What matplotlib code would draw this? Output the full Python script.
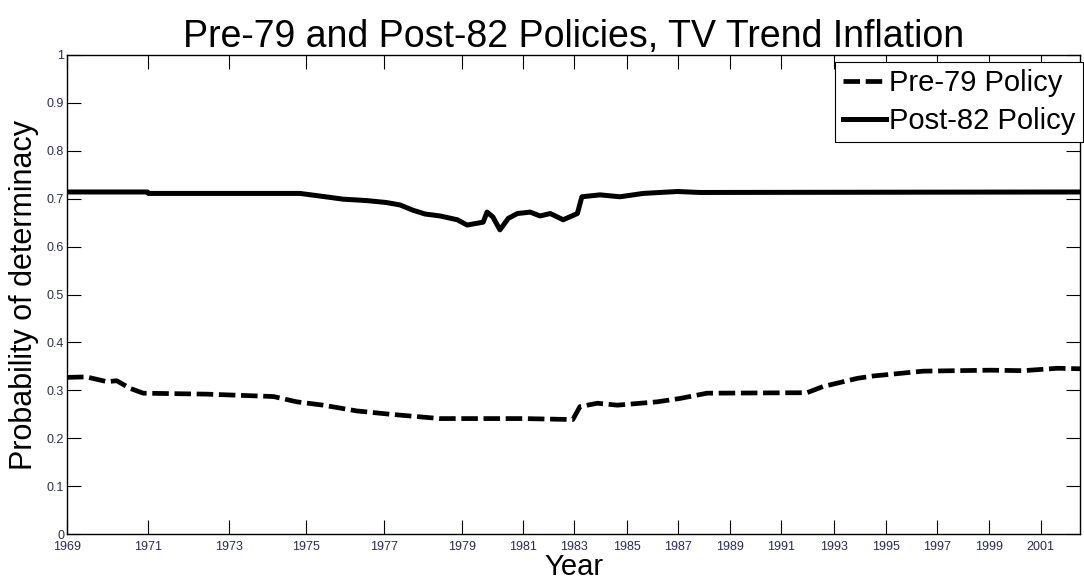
import matplotlib
matplotlib.use('Agg')
import matplotlib.pyplot as plt
import numpy as np

plt.rcParams['font.family'] = ['Liberation Sans', 'DejaVu Sans']

# x axis is an observation index; year labels sit at uneven positions
tick_pos = [0, 12.6, 25.1, 37.1, 49.1, 61.2, 70.7, 78.6, 86.8, 94.7,
            102.8, 110.7, 118.9, 127.0, 134.9, 142.9, 150.9]
tick_years = ['1969', '1971', '1973', '1975', '1977', '1979', '1981', '1983',
              '1985', '1987', '1989', '1991', '1993', '1995', '1997', '1999', '2001']
x_max = 157

# Post-82 policy
post_x = [0, 12.5, 12.6, 34.6, 36.1, 39.5, 42.8, 46.5, 49.5, 51.6, 53.6, 55.5,
          57.8, 60.5, 62.0, 64.5, 65.1, 66.0, 67.1, 68.4, 69.8, 71.8, 73.3,
          74.9, 76.9, 79.1, 79.8, 82.6, 85.7, 89.3, 94.6, 98.1, 157]
post_y = [0.714, 0.714, 0.711, 0.711, 0.711, 0.705, 0.699, 0.696, 0.692, 0.687,
          0.676, 0.668, 0.664, 0.656, 0.645, 0.651, 0.672, 0.662, 0.635, 0.659,
          0.669, 0.672, 0.664, 0.669, 0.656, 0.669, 0.704, 0.708, 0.704, 0.711,
          0.715, 0.713, 0.714]

# Pre-79 policy
pre_x = [0, 3.0, 6.2, 7.7, 9.8, 11.8, 21.7, 32.0, 35.6, 39.7, 44.9, 50.1,
         57.8, 70.7, 78.4, 79.5, 82.2, 85.3, 91.5, 95.0, 99.2, 114.7, 117.2,
         122.5, 125.0, 132.7, 143.1, 148.2, 153.5, 157]
pre_y = [0.327, 0.328, 0.318, 0.320, 0.304, 0.294, 0.292, 0.287, 0.276, 0.269,
         0.257, 0.250, 0.241, 0.241, 0.239, 0.266, 0.273, 0.269, 0.276, 0.283,
         0.294, 0.295, 0.308, 0.325, 0.330, 0.340, 0.342, 0.341, 0.346, 0.345]

fig = plt.figure(figsize=(10.84, 5.83), dpi=100)
ax = fig.add_axes([0.0618, 0.084, 0.9345, 0.8217])

ax.plot(pre_x, pre_y, color='black', lw=3.4, dashes=(3.5, 1.2), label='Pre-79 Policy')
ax.plot(post_x, post_y, color='black', lw=3.6, label='Post-82 Policy')

ax.set_xlim(0, x_max)
ax.set_ylim(0, 1)
ax.set_xticks(tick_pos)
ax.set_xticklabels(tick_years)
ax.set_yticks(np.arange(0, 1.01, 0.1))
ax.set_yticklabels(['0', '0.1', '0.2', '0.3', '0.4', '0.5', '0.6', '0.7', '0.8', '0.9', '1'])
ax.tick_params(direction='in', length=10, width=0.8, top=True, right=True,
               labelsize=9, labelcolor='#2a2a5a', pad=2)
ax.tick_params(axis='x', pad=5)
for s in ax.spines.values():
    s.set_linewidth(1.0)

ax.set_title('Pre-79 and Post-82 Policies, TV Trend Inflation', fontsize=27, pad=6)
ax.set_xlabel('Year', fontsize=21, labelpad=0)
ax.set_ylabel('Probability of determinacy', fontsize=22, labelpad=6)

leg = ax.legend(loc='upper right', bbox_to_anchor=(1.003, 0.986), borderaxespad=0,
                fontsize=21, handlelength=1.5, handletextpad=0.1, fancybox=False,
                framealpha=1, edgecolor='black', borderpad=0.25, labelspacing=0.35)
leg.get_frame().set_linewidth(0.8)

fig.savefig('out.png', dpi=100)
